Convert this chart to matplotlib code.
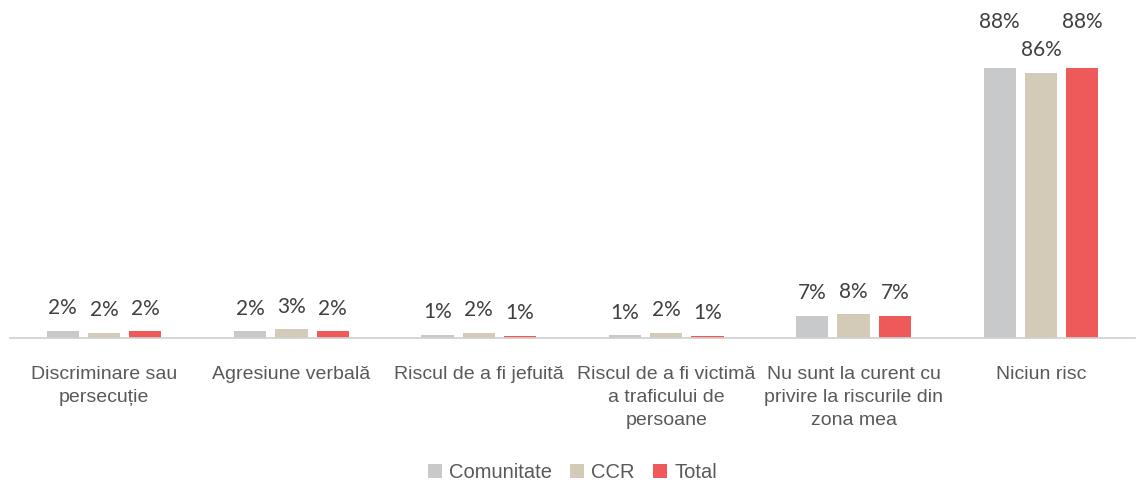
import numpy as np
import matplotlib.pyplot as plt

categories = ["Discriminare sau\npersecuție", "Agresiune verbală", "Riscul de a fi jefuită",
              "Riscul de a fi victimă\na traficului de\npersoane",
              "Nu sunt la curent cu\nprivire la riscurile din\nzona mea", "Niciun risc"]
series = ["Comunitate", "CCR", "Total"]
comunitate = [2.3, 2.2, 1.0, 0.9, 7.2, 88.0]
ccr = [1.7, 2.9, 1.8, 1.8, 7.8, 86.3]
total = [2.2, 2.2, 0.8, 0.8, 7.2, 88.0]
colors = ["#C8C9CB", "#D3CBB8", "#EE5A5A"]

fig = plt.figure(figsize=(11.45, 4.83), dpi=100)
ax = fig.add_axes([0.009, 0.30, 0.982, 0.636])

x = np.arange(len(categories))
w = 0.172
step = 0.22
data = [comunitate, ccr, total]
for i, (name, vals) in enumerate(zip(series, data)):
    pos = x + (i - 1) * step
    ax.bar(pos, vals, w, color=colors[i], label=name, zorder=2)
    for j, (p, v) in enumerate(zip(pos, vals)):
        off = 5.4
        # raise a label when it would collide with a neighbour's label
        others = [data[k][j] for k in (i - 1, i + 1) if 0 <= k < 3]
        if any(0 < v - o < 5 for o in others) and v > 20:
            off += 7.5
        ax.text(p, v + off, f"{round(v):.0f}%", ha="center", va="baseline",
                fontsize=15, color="#404040", family="Lato", clip_on=False)

ax.set_xlim(-0.5, len(categories) - 0.5)
ax.set_ylim(0, 100)
ax.set_yticks([])
ax.set_xticks(x)
ax.set_xticklabels(categories, fontsize=14, color="#595959", linespacing=1.45,
                   family="Liberation Sans")
ax.tick_params(axis="x", length=0, pad=20)
for s in ["top", "right", "left"]:
    ax.spines[s].set_visible(False)
ax.spines["bottom"].set_color("#D0D0D0")
ax.spines["bottom"].set_linewidth(1.2)

leg = fig.legend(loc="lower center", bbox_to_anchor=(0.5, -0.035), ncol=3, frameon=False,
                 handlelength=0.7, handleheight=0.7, handletextpad=0.35, columnspacing=0.9,
                 prop={"family": "Liberation Sans", "size": 14.5})
for t in leg.get_texts():
    t.set_color("#595959")

fig.savefig("out.png", dpi=100)
